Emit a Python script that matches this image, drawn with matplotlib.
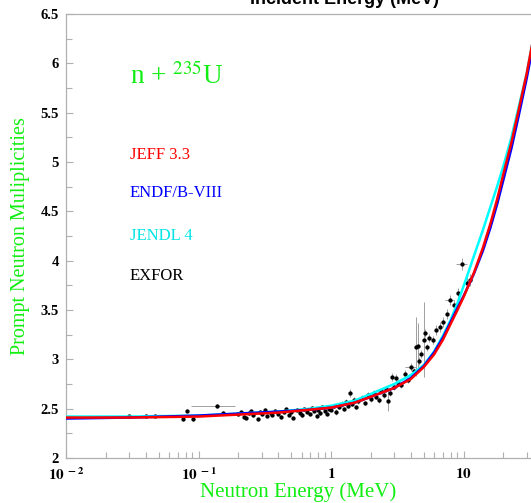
import numpy as np
import matplotlib
matplotlib.use("Agg")
import matplotlib.pyplot as plt
from matplotlib.ticker import FixedLocator, NullFormatter, LogLocator

plt.rcParams["mathtext.fontset"] = "stix"

# ====== evaluated data ======
energy = [0.01, 0.03, 0.1, 0.2, 0.4, 0.7, 1, 1.5, 2, 3, 4, 5, 6, 7, 8, 9, 10,
          11, 12, 14, 16, 18, 20, 23, 26, 30, 35]
jeff33 = [2.41, 2.41, 2.42, 2.44, 2.46, 2.49, 2.51, 2.56, 2.62, 2.71, 2.80, 2.92,
          3.05, 3.20, 3.36, 3.50, 3.63, 3.76, 3.88, 4.13, 4.38, 4.63, 4.88, 5.20,
          5.52, 5.90, 6.38]
endf8 = [2.40, 2.41, 2.43, 2.45, 2.47, 2.49, 2.51, 2.56, 2.62, 2.71, 2.81, 2.93,
         3.07, 3.22, 3.38, 3.52, 3.64, 3.76, 3.87, 4.10, 4.34, 4.58, 4.82, 5.14,
         5.46, 5.85, 6.32]
jendl4 = [2.42, 2.42, 2.43, 2.45, 2.47, 2.50, 2.53, 2.58, 2.65, 2.75, 2.84, 2.94,
          3.08, 3.24, 3.40, 3.57, 3.74, 3.90, 4.05, 4.31, 4.55, 4.76, 4.96, 5.25,
          5.55, 5.90, 6.38]

# ====== EXFOR ======
exp_e = [0.030, 0.040, 0.047, 0.076, 0.082, 0.091, 0.138, 0.153,
         0.20, 0.21, 0.22, 0.23, 0.24, 0.25, 0.26, 0.28, 0.29, 0.30, 0.32, 0.33,
         0.35, 0.36, 0.38, 0.40, 0.42, 0.44, 0.46, 0.48, 0.50, 0.52, 0.55, 0.58,
         0.60, 0.63, 0.66, 0.70, 0.72, 0.75, 0.78, 0.80, 0.83, 0.86, 0.90, 0.93,
         0.96, 1.00, 1.05, 1.10, 1.15, 1.20, 1.25, 1.30, 1.35, 1.40, 1.45, 1.50,
         1.55, 1.60, 1.70, 1.80, 1.90, 2.00, 2.10, 2.20, 2.30, 2.40, 2.50, 2.60,
         2.70, 2.80, 2.90, 3.00, 3.10, 3.20, 3.40, 3.60, 3.80, 4.00, 4.20, 4.40,
         4.57, 4.60, 4.80, 5.00, 5.10, 5.30, 5.50, 5.90, 6.20, 6.60, 7.00, 7.50,
         7.90, 8.50, 9.10, 9.70, 10.6, 11.2]
exp_nu = [2.43, 2.43, 2.43, 2.40, 2.48, 2.40, 2.53, 2.46,
          2.45, 2.47, 2.42, 2.41, 2.46, 2.48, 2.44, 2.40, 2.47, 2.45, 2.49, 2.43,
          2.46, 2.44, 2.48, 2.45, 2.42, 2.47, 2.50, 2.44, 2.47, 2.41, 2.49, 2.46,
          2.44, 2.50, 2.47, 2.45, 2.51, 2.48, 2.43, 2.49, 2.46, 2.52, 2.48, 2.45,
          2.50, 2.49, 2.53, 2.47, 2.52, 2.55, 2.50, 2.57, 2.53, 2.66, 2.55, 2.59,
          2.52, 2.58, 2.61, 2.56, 2.64, 2.60, 2.66, 2.62, 2.59, 2.68, 2.64, 2.70,
          2.58, 2.66, 2.82, 2.72, 2.81, 2.76, 2.74, 2.85, 2.79, 2.92, 2.88, 3.13,
          3.14, 2.98, 3.05, 3.20, 3.27, 3.12, 3.22, 3.20, 3.30, 3.33, 3.38, 3.46,
          3.60, 3.55, 3.67, 3.97, 3.77, 3.80]
exp_dnu = [0.01, 0.01, 0.01, 0.02, 0.02, 0.02, 0.02, 0.02,
           0.02, 0.01, 0.02, 0.01, 0.02, 0.01, 0.02, 0.01, 0.02, 0.01, 0.02, 0.01,
           0.02, 0.01, 0.02, 0.01, 0.02, 0.01, 0.02, 0.01, 0.02, 0.01, 0.02, 0.01,
           0.02, 0.01, 0.02, 0.01, 0.02, 0.01, 0.02, 0.01, 0.02, 0.01, 0.02, 0.01,
           0.02, 0.01, 0.02, 0.03, 0.02, 0.03, 0.02, 0.03, 0.02, 0.04, 0.02, 0.03,
           0.02, 0.03, 0.03, 0.02, 0.03, 0.03, 0.03, 0.02, 0.03, 0.03, 0.03, 0.03,
           0.10, 0.03, 0.04, 0.03, 0.04, 0.03, 0.03, 0.04, 0.03, 0.04, 0.03, 0.30,
           0.23, 0.04, 0.04, 0.38, 0.04, 0.04, 0.04, 0.04, 0.05, 0.05, 0.05, 0.05,
           0.05, 0.05, 0.05, 0.06, 0.06, 0.06]
exp_de = [0] * len(exp_e)
exp_de[exp_e.index(0.138)] = 0.05
exp_de[exp_e.index(4.00)] = 0.4
exp_de[exp_e.index(7.90)] = 0.6
exp_de[exp_e.index(9.70)] = 0.9

GREEN = "#11ee11"
SERIF = "Liberation Serif"

# ====== figure ======
fig = plt.figure(figsize=(5.31, 5.03), dpi=100)
ax = fig.add_axes([66 / 531, 1 - 458 / 503, 477.3 / 531, 444 / 503])

ax.errorbar(exp_e, exp_nu, yerr=exp_dnu, xerr=exp_de, fmt="o", ms=2.1,
            color="black", ecolor="#a0a0a0", elinewidth=0.7, capsize=0, zorder=2)
ax.plot(energy, jendl4, color="#00ffff", lw=1.8, zorder=3)
ax.plot(energy, endf8, color="#0000ff", lw=1.8, zorder=4)
ax.plot(energy, jeff33, color="#ff0000", lw=1.8, zorder=5)

ax.set_xscale("log")
ax.set_xlim(0.01, 40)
ax.set_ylim(2, 6.5)

# ticks, ROOT style
ax.xaxis.set_major_locator(FixedLocator([0.01, 0.1, 1, 10]))
ax.xaxis.set_minor_locator(LogLocator(base=10, subs=np.arange(2, 10)))
ax.xaxis.set_minor_formatter(NullFormatter())
ax.set_xticklabels([r"$\mathbf{10^{\ -2}}$", r"$\mathbf{10^{\ -1}}$",
                    r"$\mathbf{1}$", r"$\mathbf{10}$"])
ax.yaxis.set_major_locator(FixedLocator(np.arange(2, 6.51, 0.5)))
ax.yaxis.set_minor_locator(FixedLocator(np.arange(2.25, 6.5, 0.5)))
ax.set_yticklabels(["2", "2.5", "3", "3.5", "4", "4.5", "5", "5.5", "6", "6.5"])
for lab in ax.get_yticklabels():
    lab.set_fontfamily(SERIF)
    lab.set_fontweight("bold")
    lab.set_fontsize(10.5)
for lab in ax.get_xticklabels():
    lab.set_fontsize(11)
ax.tick_params(axis="both", which="both", direction="in", color="#b0b0b0",
               width=0.8)
ax.tick_params(axis="both", which="major", length=5, pad=5)
ax.tick_params(axis="both", which="minor", length=4)
ax.tick_params(axis="x", which="major", pad=6)
for s in ax.spines.values():
    s.set_color("#b0b0b0")
    s.set_linewidth(0.9)

ax.set_xlabel("Neutron Energy (MeV)", color=GREEN, family=SERIF, fontsize=15,
              labelpad=0)
ax.xaxis.set_label_coords(232 / 477.3, -24 / 444)
ax.set_ylabel("Prompt Neutron Muliplicities", color=GREEN, family=SERIF,
              fontsize=14.5)
ax.yaxis.set_label_coords(-36 / 477.3, 0.5)

# labels inside the frame
ax.text(64 / 477.3, (458 - 76) / 444, r"n + $^{235}$U", transform=ax.transAxes,
        color=GREEN, family=SERIF, fontsize=19.5, va="center")
legend_items = [("JEFF 3.3", "#ff0000", 155), ("ENDF/B-VIII", "#0000ff", 193),
                ("JENDL 4", "#00e5e5", 236), ("EXFOR", "black", 276)]
for txt, col, ypx in legend_items:
    ax.text(64 / 477.3, (458 - ypx) / 444, txt, transform=ax.transAxes,
            color=col, family=SERIF, fontsize=12, va="center")

# title cut off at the top edge, as in the original
fig.text(345 / 531, 1 - 4 / 503, "Incident Energy (MeV)", ha="center",
         va="baseline", fontsize=13, fontweight="bold", family="Liberation Sans")

fig.savefig("out.png", dpi=100)
